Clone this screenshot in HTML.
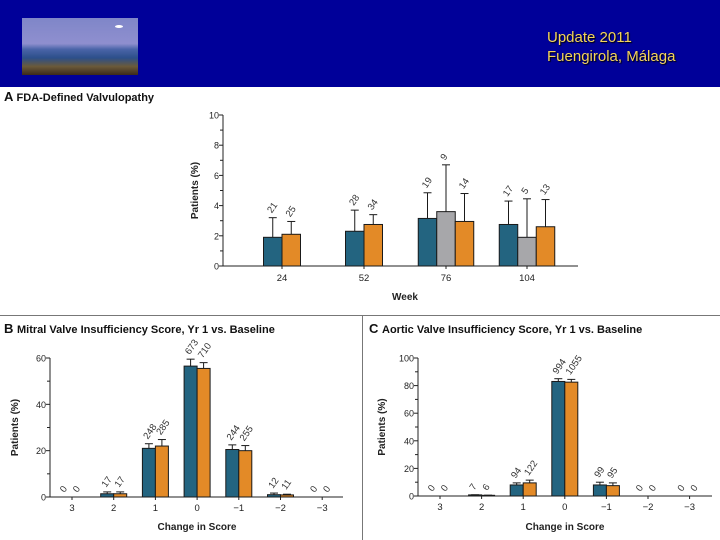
<!DOCTYPE html>
<html><head><meta charset="utf-8">
<style>
html,body{margin:0;padding:0;background:#fff;}
body{width:720px;height:540px;overflow:hidden;position:relative;font-family:"Liberation Sans",sans-serif;}
#hdr{position:absolute;left:0;top:0;width:720px;height:87px;background:#000099;}
#photo{position:absolute;left:22px;top:18px;width:116px;height:57px;background:linear-gradient(180deg,#7f86c8 0%,#8f8fcf 45%,#4a64a8 55%,#2c4f8a 70%,#6b5a3a 85%,#3b2a1a 100%);}
#moon{position:absolute;left:93px;top:7px;width:8px;height:3px;border-radius:50%;background:#fff;}
.ht{position:absolute;left:547px;color:#f2d35c;font-size:15px;text-shadow:1px 1px 1px #000;}
svg{position:absolute;left:0;top:0;}
text{font-family:"Liberation Sans",sans-serif;}
</style></head>
<body>
<div id="hdr">
 <div id="photo"><div id="moon"></div></div>
 <div class="ht" style="top:29px">Update 2011</div>
 <div class="ht" style="top:48px">Fuengirola, Málaga</div>
</div>
<svg id="s" width="720" height="540"></svg>
<script>
// Panel A data
const aCats=["24","52","76","104"];
const aBlue=[1.9,2.3,3.15,2.75];
const aBlueErr=[3.2,3.7,4.85,4.3];
const aBlueN=["21","28","19","17"];
const aGray=[null,null,3.6,1.9];
const aGrayErr=[null,null,6.7,4.45];
const aGrayN=["","","9","5"];
const aOrange=[2.1,2.75,2.95,2.6];
const aOrangeErr=[2.95,3.4,4.8,4.4];
const aOrangeN=["25","34","14","13"];
const aTicks=[0,2,4,6,8,10];
// Panel B data
const bCats=["3","2","1","0","\u22121","\u22122","\u22123"];
const bBlue=[0,1.4,21,56.5,20.5,1];
const bBlueErr=[0,2.2,23,59.5,22.5,1.7];
const bBlueN=["0","17","248","673","244","12","0"];
const bOrange=[0,1.4,22,55.5,20,0.9];
const bOrangeErr=[0,2.2,24.8,58,22.2,1.2];
const bOrangeN=["0","17","285","710","255","11","0"];
const bTicks=[0,20,40,60];
// Panel C data
const cCats=["3","2","1","0","\u22121","\u22122","\u22123"];
const cBlue=[0,0.8,8,83,8,0,0];
const cBlueErr=[0,0.9,9.5,85,10,0,0];
const cBlueN=["0","7","94","994","99","0","0"];
const cOrange=[0,0.5,9.5,82.5,7.5,0,0];
const cOrangeErr=[0,0.6,11.5,84.5,9.5,0,0];
const cOrangeN=["0","6","122","1055","95","0","0"];
const cTicks=[0,20,40,60,80,100];

const BLUE="#236480",ORANGE="#e38a27",GRAY="#a7a7aa";
const svg=document.getElementById('s');
const NS="http://www.w3.org/2000/svg";
function mk(tag,attrs,txt){const e=document.createElementNS(NS,tag);for(const k in attrs)e.setAttribute(k,attrs[k]);if(txt!==undefined)e.textContent=txt;svg.appendChild(e);return e;}

// panel separators
let e=mk('line',{x1:0,y1:315.5,x2:720,y2:315.5,stroke:'#777','stroke-width':1});


e=mk('line',{x1:362.5,y1:315,x2:362.5,y2:540,stroke:'#777','stroke-width':1});



function title(x,y,letter,t,name){
 let g=mk('text',{x:x,y:y,'font-size':12,fill:'#111'});
 
 
 const a=document.createElementNS(NS,'tspan');a.setAttribute('font-size',13);a.setAttribute('font-weight','bold');a.textContent=letter+'  ';g.appendChild(a);
 const b=document.createElementNS(NS,'tspan');b.setAttribute('font-size',11);b.setAttribute('font-weight','bold');b.textContent=t;g.appendChild(b);
}
title(4,101,'A','FDA-Defined Valvulopathy','panel-a-title');
title(4,333,'B','Mitral Valve Insufficiency Score, Yr 1 vs. Baseline','panel-b-title');
title(369,333,'C','Aortic Valve Insufficiency Score, Yr 1 vs. Baseline','panel-c-title');

function axes(p){
 const {x0,x1,y0,ymax,yTop,ticks,minor,pfx,ytitleX,xtitle,xtitleY}=p;
 const ys=v=>y0-(v/ymax)*(y0-yTop);
 let l=mk('line',{x1:x0,y1:yTop,x2:x0,y2:y0,stroke:'#222','stroke-width':1});
 
 
 l=mk('line',{x1:x0,y1:y0,x2:x1,y2:y0,stroke:'#222','stroke-width':1});
 
 
 ticks.forEach(t=>{
  mk('line',{x1:x0-4,y1:ys(t),x2:x0,y2:ys(t),stroke:'#222'});
  const tx=mk('text',{x:x0-4,y:ys(t)+3.5,'font-size':9,'text-anchor':'end',fill:'#222'},String(t));
  
  
 });
 for(let i=0;i<ticks.length-1;i++){const m=(ticks[i]+ticks[i+1])/2;mk('line',{x1:x0-3,y1:ys(m),x2:x0,y2:ys(m),stroke:'#222'});}
 const ty=(yTop+y0)/2;
 const yt=mk('text',{x:ytitleX,y:ty,'font-size':10,'font-weight':'bold','text-anchor':'middle',fill:'#222',transform:`rotate(-90 ${ytitleX} ${ty})`},'Patients (%)');
 
 
 const xt=mk('text',{x:xtitle,y:xtitleY,'font-size':10,'font-weight':'bold','text-anchor':'middle',fill:'#222'},p.xlabel);
 
 
 return ys;
}
function bar(ys,y0,x,w,v,err,n,col,name){
 if(v>0){
  const r=mk('rect',{x:x,y:ys(v),width:w,height:y0-ys(v),fill:col,stroke:'#1a1a1a','stroke-width':1});
  
  
 }
 let top=y0;
 if(err>v){
  const cx=x+w/2;
  mk('line',{x1:cx,y1:ys(v),x2:cx,y2:ys(err),stroke:'#1a1a1a'});
  mk('line',{x1:cx-4,y1:ys(err),x2:cx+4,y2:ys(err),stroke:'#1a1a1a'});
  top=ys(err);
 }
 if(n!==""){
  const lx=x+w/2-1,ly=top-4;
  const t=mk('text',{x:lx,y:ly,'font-size':9.5,fill:'#333',transform:`rotate(-55 ${lx} ${ly})`},n);
  
  
 }
}

// Panel A
(function(){
 const y0=266,x0=223;
 const ys=axes({x0:x0,x1:578,y0:y0,ymax:10,yTop:115,ticks:aTicks,pfx:'a',ytitleX:198,xtitle:405,xtitleY:300,xlabel:'Week'});
 const centers=[282,364,446,527],w=18.5;
 aCats.forEach((c,i)=>{
  const tl=mk('text',{x:centers[i],y:281,'font-size':9.5,'text-anchor':'middle',fill:'#222'},c);
  
  
  mk('line',{x1:centers[i],y1:y0,x2:centers[i],y2:y0+3,stroke:'#222'});
  const has=aGray[i]!==null;
  const series=has?[[aBlue,aBlueErr,aBlueN,BLUE,'blue'],[aGray,aGrayErr,aGrayN,GRAY,'gray'],[aOrange,aOrangeErr,aOrangeN,ORANGE,'orange']]
                  :[[aBlue,aBlueErr,aBlueN,BLUE,'blue'],[aOrange,aOrangeErr,aOrangeN,ORANGE,'orange']];
  const start=centers[i]-series.length*w/2;
  series.forEach((s,j)=>bar(ys,y0,start+j*w,w,s[0][i],s[1][i],s[2][i],s[3],'a-bar-'+s[4]+'-week'+c));
 });
})();

function panelBC(p,cats,blue,blueE,blueN,orange,orangeE,orangeN,ticks){
 const ys=axes(p);
 const w=13;
 cats.forEach((c,i)=>{
  const cx=p.c0+i*p.step;
  mk('line',{x1:cx,y1:p.y0,x2:cx,y2:p.y0+3,stroke:'#222'});
  const tl=mk('text',{x:cx,y:p.y0+14,'font-size':9.5,'text-anchor':'middle',fill:'#222'},c);
  
  
  bar(ys,p.y0,cx-w,w,blue[i]||0,blueE[i]||0,blueN[i],BLUE,p.pfx+'-bar-blue-'+i);
  bar(ys,p.y0,cx,w,orange[i]||0,orangeE[i]||0,orangeN[i],ORANGE,p.pfx+'-bar-orange-'+i);
 });
}
panelBC({x0:50,x1:343,y0:497,ymax:60,yTop:358,ticks:bTicks,pfx:'b',ytitleX:18,xtitle:197,xtitleY:530,xlabel:'Change in Score',c0:72,step:41.7},
 bCats,bBlue,bBlueErr,bBlueN,bOrange,bOrangeErr,bOrangeN,bTicks);
panelBC({x0:418,x1:712,y0:496,ymax:100,yTop:358,ticks:cTicks,pfx:'c',ytitleX:385,xtitle:565,xtitleY:530,xlabel:'Change in Score',c0:440,step:41.6},
 cCats,cBlue,cBlueErr,cBlueN,cOrange,cOrangeErr,cOrangeN,cTicks);
</script>
</body></html>
